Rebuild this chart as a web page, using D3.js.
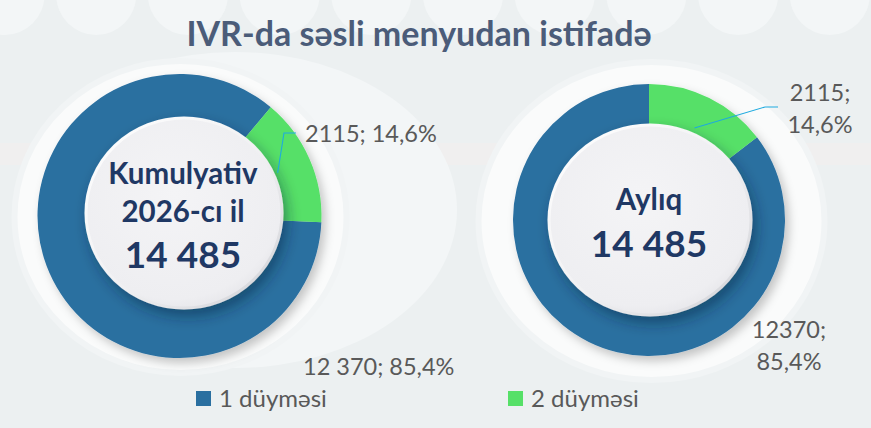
<!DOCTYPE html>
<html>
<head>
<meta charset="utf-8">
<script src="https://cdn.jsdelivr.net/npm/d3@7"></script>
<style>
  html, body { margin: 0; padding: 0; background: #ecf0f1; }
  svg { display: block; }
</style>
</head>
<body>
<svg id="chart" width="871" height="428"></svg>
<script>
// Series
const categories = ["1 düyməsi", "2 düyməsi"];
const cumulativeValues = [12370, 2115];
const monthlyValues = [12370, 2115];
const colors = ["#2a6fa0", "#56e068"];

// Centre captions
const cumulativeCaption = ["Kumulyativ", "2026-cı il"];
const monthlyCaption = ["Aylıq"];
const titleText = "IVR-da səsli menyudan istifadə";

const svg = d3.select("#chart");
const W = 871, H = 428;
const FONT = "Lato, 'Open Sans', sans-serif";
const defs = svg.append("defs");

// shadows
const ringShadow = defs.append("filter").attr("id", "ringShadow")
  .attr("x", "-20%").attr("y", "-20%").attr("width", "140%").attr("height", "140%");
ringShadow.append("feDropShadow").attr("dx", 4).attr("dy", 5).attr("stdDeviation", 5)
  .attr("flood-color", "#000").attr("flood-opacity", 0.22);

const holeShadow = defs.append("filter").attr("id", "holeShadow")
  .attr("x", "-30%").attr("y", "-30%").attr("width", "160%").attr("height", "160%");
holeShadow.append("feDropShadow").attr("dx", 4).attr("dy", 7).attr("stdDeviation", 7)
  .attr("flood-color", "#0b2238").attr("flood-opacity", 0.45);

const holeFill = defs.append("radialGradient").attr("id", "holeFill")
  .attr("cx", "45%").attr("cy", "40%").attr("r", "65%");
holeFill.append("stop").attr("offset", "0%").attr("stop-color", "#f4f4f6");
holeFill.append("stop").attr("offset", "85%").attr("stop-color", "#eeeef1");
holeFill.append("stop").attr("offset", "100%").attr("stop-color", "#e4e4e8");

const holeRim = defs.append("linearGradient").attr("id", "holeRim")
  .attr("x1", "0%").attr("y1", "0%").attr("x2", "100%").attr("y2", "100%");
holeRim.append("stop").attr("offset", "0%").attr("stop-color", "#ffffff");
holeRim.append("stop").attr("offset", "55%").attr("stop-color", "#f0f0f2");
holeRim.append("stop").attr("offset", "100%").attr("stop-color", "#cfd0d5");

// background
svg.append("rect").attr("width", W).attr("height", H).attr("fill", "#ecf0f1");
svg.append("rect").attr("x", 0).attr("y", 143).attr("width", W).attr("height", 22)
  .attr("fill", "#f3eeee").attr("opacity", 0.5);

// bubbles along the top edge
const bubbleX = d3.range(10).map(i => 4.5 + i * 91.7);
svg.append("g").selectAll("circle").data(bubbleX).join("circle")
  .attr("cx", d => d).attr("cy", -5).attr("r", 40).attr("fill", "#f3f6f7");

// soft halo behind the left donut
svg.append("ellipse").attr("cx", 235).attr("cy", 210).attr("rx", 222).attr("ry", 158)
  .attr("fill", "#f3f6f7");

// title
svg.append("text").attr("x", 419).attr("y", 46)
  .attr("text-anchor", "middle")
  .attr("font-family", FONT).attr("font-weight", 700)
  .attr("font-size", 34).attr("fill", "#4b5c79")
  .text(titleText);

const loc = d3.formatLocale({ decimal: ",", thousands: " ", grouping: [3], currency: ["", ""] });
const pctFmt = loc.format(".1f");
const grpFmt = loc.format(",d");
const plainFmt = d3.format("d");
// digit groups only from five digits on
const countFmt = v => (v >= 10000 ? grpFmt(v) : plainFmt(v));

function donut(cfg) {
  const g = svg.append("g");
  const total = d3.sum(cfg.values);

  g.append("ellipse").attr("cx", cfg.halo[0]).attr("cy", cfg.halo[1])
    .attr("rx", cfg.halo[2]).attr("ry", cfg.halo[3])
    .attr("fill", "#fafbfb").attr("stroke", "#f1f4f5").attr("stroke-width", 6);

  // place the "2 düyməsi" slice start at cfg.greenStart degrees
  const share0 = cfg.values[0] / total;
  const start = (cfg.greenStart / 180) * Math.PI - share0 * 2 * Math.PI;
  const pie = d3.pie().sort(null).startAngle(start).endAngle(start + 2 * Math.PI);
  const arcs = pie(cfg.values);
  const arc = d3.arc().innerRadius(cfg.r * 0.6).outerRadius(cfg.r);

  const ring = g.append("g").attr("transform", `translate(${cfg.cx},${cfg.cy})`)
    .attr("filter", "url(#ringShadow)");
  ring.selectAll("path").data(arcs).join("path")
    .attr("d", arc).attr("fill", (d, i) => colors[i]);

  // centre disc
  g.append("ellipse").attr("cx", cfg.hole[0]).attr("cy", cfg.hole[1])
    .attr("rx", cfg.hole[2]).attr("ry", cfg.hole[3])
    .attr("fill", "url(#holeFill)").attr("stroke", "url(#holeRim)").attr("stroke-width", 3)
    .attr("filter", "url(#holeShadow)");

  // caption
  cfg.caption.forEach((t, i) => {
    g.append("text").attr("x", cfg.hole[0] - 1).attr("y", cfg.captionY[i])
      .attr("text-anchor", "middle")
      .attr("font-family", FONT).attr("font-weight", 700)
      .attr("font-size", 29.5).attr("fill", "#1f3864").text(t);
  });
  g.append("text").attr("x", cfg.hole[0] - 1).attr("y", cfg.totalY)
    .attr("text-anchor", "middle")
    .attr("font-family", FONT).attr("font-weight", 700)
    .attr("font-size", 37).attr("fill", "#1f3864").text(grpFmt(total));

  // leader for the small slice
  const a = arcs[1];
  const mid = (a.startAngle + a.endAngle) / 2;
  const rr = cfg.r * 0.755;
  const p0 = [cfg.cx + rr * Math.sin(mid), cfg.cy - rr * Math.cos(mid)];
  g.append("polyline")
    .attr("points", [p0, cfg.leader[0], cfg.leader[1]].map(p => p.join(",")).join(" "))
    .attr("fill", "none").attr("stroke", "#1eaadf").attr("stroke-width", 1.1);

  // value labels
  const fmt = cfg.grouped ? countFmt : plainFmt;
  cfg.values.forEach((v, i) => {
    const lines = cfg.split
      ? [fmt(v) + ";", pctFmt(v / total * 100) + "%"]
      : [fmt(v) + "; " + pctFmt(v / total * 100) + "%"];
    const L = cfg.labels[i];
    lines.forEach((t, j) => {
      g.append("text").attr("x", L[0]).attr("y", L[1] + j * 32)
        .attr("text-anchor", L[2])
        .attr("font-family", FONT)
        .attr("font-size", 23.5).attr("fill", "#595959").text(t);
    });
  });
}

donut({
  values: cumulativeValues, cx: 179.5, cy: 216, r: 142, greenStart: 40,
  halo: [180.5, 217, 166, 156], hole: [184, 213, 98, 95],
  caption: cumulativeCaption, captionY: [184, 222], totalY: 268,
  leader: [[284, 133], [296, 133]],
  labels: [[303, 375, "start"], [305, 142, "start"]],
  grouped: true, split: false
});

donut({
  values: monthlyValues, cx: 649, cy: 220, r: 136, greenStart: 0,
  halo: [651.5, 221, 173, 159], hole: [650, 220, 101, 95],
  caption: monthlyCaption, captionY: [210], totalY: 257,
  leader: [[765, 107], [778, 107]],
  labels: [[789, 338, "middle"], [820, 101, "middle"]],
  grouped: false, split: true
});

// legend
const legend = svg.append("g");
const legendX = [196, 508];
categories.forEach((c, i) => {
  legend.append("rect").attr("x", legendX[i]).attr("y", 391).attr("width", 15).attr("height", 15)
    .attr("fill", colors[i]);
  legend.append("text").attr("x", legendX[i] + 23).attr("y", 407)
    .attr("font-family", FONT)
    .attr("font-size", 24).attr("fill", "#595959").text(c);
});
</script>
</body>
</html>
